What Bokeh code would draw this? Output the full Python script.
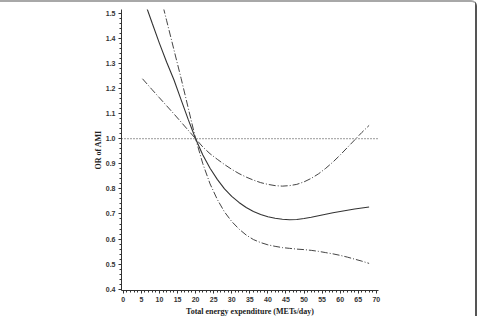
from bokeh.plotting import figure
from bokeh.models import Range1d, FixedTicker, Span
from bokeh.embed import file_html
from bokeh.resources import INLINE

# Data
x_vals = [5.3, 8, 10, 12, 14, 16, 18, 20, 22, 24, 26, 28, 30, 32, 34, 36, 38, 40,
          42, 44, 46, 48, 50, 52, 54, 56, 58, 60, 62, 64, 66, 68]
or_est = [1.57, 1.46, 1.38, 1.305, 1.235, 1.155, 1.075, 1.0, 0.935, 0.882, 0.838,
          0.800, 0.770, 0.746, 0.726, 0.710, 0.698, 0.689, 0.683, 0.679, 0.677,
          0.678, 0.682, 0.687, 0.693, 0.699, 0.705, 0.710, 0.715, 0.720, 0.724, 0.728]
ci_a = [1.85, 1.70, 1.585, 1.47, 1.355, 1.24, 1.12, 1.0, 0.90, 0.82, 0.758, 0.708,
        0.670, 0.640, 0.616, 0.598, 0.586, 0.577, 0.571, 0.566, 0.563, 0.560, 0.558,
        0.555, 0.551, 0.546, 0.541, 0.535, 0.528, 0.520, 0.512, 0.503]
ci_b = [1.239, 1.195, 1.163, 1.131, 1.099, 1.066, 1.033, 1.0, 0.967, 0.940, 0.918,
        0.897, 0.878, 0.861, 0.847, 0.835, 0.825, 0.818, 0.813, 0.811, 0.813, 0.818,
        0.828, 0.842, 0.860, 0.882, 0.907, 0.935, 0.965, 0.995, 1.025, 1.053]
x_ticks = [0, 5, 10, 15, 20, 25, 30, 35, 40, 45, 50, 55, 60, 65, 70]
y_ticks = [0.4, 0.5, 0.6, 0.7, 0.8, 0.9, 1.0, 1.1, 1.2, 1.3, 1.4, 1.5]
ref_value = 1.0

p = figure(width=477, height=316, output_backend="svg", toolbar_location=None,
           x_range=Range1d(-0.5, 70.6), y_range=Range1d(0.395, 1.515),
           min_border_left=121, min_border_right=99, min_border_top=7,
           min_border_bottom=24,
           styles={"border-top": "2px solid #a8a8a8", "border-right": "2px solid #555",
                   "border-top-right-radius": "6px"})
p.outline_line_color = None
p.xgrid.visible = False
p.ygrid.visible = False
p.background_fill_color = "white"
p.border_fill_color = "white"

p.add_layout(Span(location=ref_value, dimension="width", line_color="#333",
                  line_width=1, line_dash="1 2"))
p.line(x_vals, or_est, line_color="#333", line_width=1.1)
p.line(x_vals, ci_a, line_color="#444", line_width=1, line_dash="7 2 1 2")
p.line(x_vals, ci_b, line_color="#444", line_width=1, line_dash="7 2 1 2")

xt = FixedTicker(ticks=x_ticks, minor_ticks=list(range(0, 71)))
yt = FixedTicker(ticks=y_ticks, minor_ticks=[round(0.4 + 0.02 * i, 2) for i in range(56)])
p.xaxis.ticker = xt
p.yaxis.ticker = yt
p.xaxis.major_label_overrides = {t: str(t) for t in x_ticks}
p.yaxis.major_label_overrides = {t: f"{t:.1f}" for t in y_ticks}

for ax in (p.xaxis[0], p.yaxis[0]):
    ax.axis_line_color = "#333"
    ax.major_tick_line_color = "#333"
    ax.minor_tick_line_color = "#333"
    ax.major_tick_in = 0
    ax.major_tick_out = 3
    ax.minor_tick_in = 0
    ax.minor_tick_out = 2
    ax.major_label_text_font = "Liberation Sans"
    ax.major_label_text_font_style = "bold"
    ax.major_label_text_font_size = "7px"
    ax.major_label_text_color = "#333"
    ax.major_label_standoff = 3
    ax.axis_label_text_font = "Liberation Serif"
    ax.axis_label_text_font_style = "bold"
    ax.axis_label_text_font_size = "8px"
    ax.axis_label_text_color = "#222"
    ax.axis_label_standoff = 2

p.xaxis.axis_label = "Total energy expenditure (METs/day)"
p.yaxis.axis_label = "OR of AMI"
p.yaxis.axis_label_standoff = 0

open("out.html", "w").write(file_html(p, INLINE))
